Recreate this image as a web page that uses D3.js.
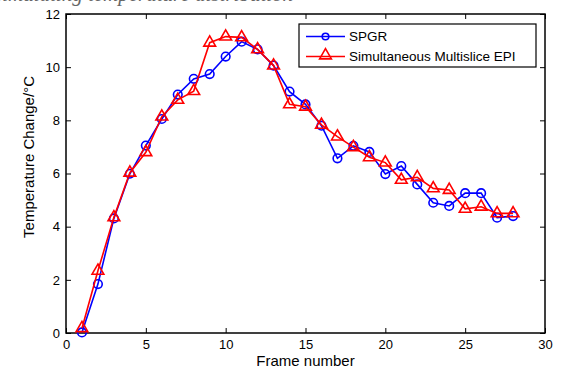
<!DOCTYPE html>
<html>
<head>
<meta charset="utf-8">
<script src="https://cdn.jsdelivr.net/npm/d3@7"></script>
<style>
  body { margin: 0; background: #fff; }
  svg { display: block; }
  text { font-family: "Liberation Sans", Arial, sans-serif; }
  text.caption { font-family: "Liberation Serif", "Times New Roman", serif; font-style: italic; }
</style>
</head>
<body>
<svg id="chart" width="564" height="369"></svg>
<script>
// data
const frames = d3.range(1, 29);
const spgr = [0.02, 1.84, 4.31, 5.99, 7.05, 8.05, 8.97, 9.56, 9.74, 10.4, 10.96, 10.67, 10.06, 9.08,
  8.6, 7.8, 6.57, 7.04, 6.81, 5.98, 6.28, 5.59, 4.9, 4.78, 5.26, 5.26, 4.34, 4.4];
const smsEpi = [0.18, 2.34, 4.35, 6.03, 6.8, 8.14, 8.77, 9.1, 10.92, 11.15, 11.12, 10.67, 10.06, 8.6,
  8.51, 7.83, 7.39, 6.99, 6.61, 6.41, 5.76, 5.86, 5.44, 5.38, 4.67, 4.75, 4.5, 4.5];
const xTicks = [0, 5, 10, 15, 20, 25, 30];
const yTicks = [0, 2, 4, 6, 8, 10, 12];
const seriesNames = ["SPGR", "Simultaneous Multislice EPI"];

var svg = d3.select("#chart");
// plot box in pixels
var mLeft = 66, mRight = 545, mTop = 14, mBottom = 333;

var x = d3.scaleLinear().domain([0, 30]).range([mLeft, mRight]);
var y = d3.scaleLinear().domain([0, 12]).range([mBottom, mTop]);

// cut-off caption line from the page above, only its lower edge shows
svg.append("text")
  .attr("class", "caption")
  .attr("x", -6)
  .attr("y", 0.5)
  .attr("font-size", 21)
  .attr("fill", "#666")
  .text("simulating temperature distribution");

// axes, ticks inward on all four sides
svg.append("g")
  .attr("transform", `translate(0,${mBottom})`)
  .call(d3.axisBottom(x).tickValues(xTicks).tickSize(-5).tickPadding(7))
  .call(g => g.select(".domain").remove());
svg.append("g")
  .attr("transform", `translate(0,${mTop})`)
  .call(d3.axisTop(x).tickValues(xTicks).tickSize(-5).tickFormat(""))
  .call(g => g.select(".domain").remove());
svg.append("g")
  .attr("transform", `translate(${mLeft},0)`)
  .call(d3.axisLeft(y).tickValues(yTicks).tickSize(-5).tickPadding(6))
  .call(g => g.select(".domain").remove());
svg.append("g")
  .attr("transform", `translate(${mRight},0)`)
  .call(d3.axisRight(y).tickValues(yTicks).tickSize(-5).tickFormat(""))
  .call(g => g.select(".domain").remove());

svg.selectAll(".tick text")
  .attr("font-size", 13)
  .attr("font-family", "Liberation Sans, Arial, sans-serif")
  .attr("fill", "#000");
svg.selectAll(".tick line").attr("stroke", "#000");

svg.append("rect")
  .attr("x", mLeft).attr("y", mTop)
  .attr("width", mRight - mLeft).attr("height", mBottom - mTop)
  .attr("fill", "none").attr("stroke", "#000").attr("stroke-width", 1.5);

// axis labels
svg.append("text")
  .attr("x", (mLeft + mRight) / 2)
  .attr("y", 366)
  .attr("text-anchor", "middle")
  .attr("font-size", 15)
  .text("Frame number");
svg.append("text")
  .attr("transform", "translate(34,157) rotate(-90)")
  .attr("text-anchor", "middle")
  .attr("font-size", 15)
  .text("Temperature Change/\u00B0C");

var line = d3.line().x((d, i) => x(frames[i])).y(d => y(d));

function drawTriangle(sel) {
  sel.attr("d", d3.symbol().type(d3.symbolTriangle).size(60))
    .attr("fill", "none").attr("stroke", "red").attr("stroke-width", 1.6);
}

// SPGR
svg.append("path").datum(spgr)
  .attr("d", line).attr("fill", "none").attr("stroke", "#0000ff").attr("stroke-width", 1.6);
svg.append("g").selectAll("circle").data(spgr).enter().append("circle")
  .attr("cx", (d, i) => x(frames[i])).attr("cy", d => y(d)).attr("r", 4.3)
  .attr("fill", "none").attr("stroke", "#0000ff").attr("stroke-width", 1.6);

// SMS EPI
svg.append("path").datum(smsEpi)
  .attr("d", line).attr("fill", "none").attr("stroke", "red").attr("stroke-width", 1.6);
svg.append("g").selectAll("path").data(smsEpi).enter().append("path")
  .attr("transform", (d, i) => `translate(${x(frames[i])},${y(d)})`)
  .call(drawTriangle);

// legend
var legend = svg.append("g");
legend.append("rect")
  .attr("x", 299).attr("y", 24).attr("width", 237).attr("height", 43)
  .attr("fill", "#fff").attr("stroke", "#000").attr("stroke-width", 1.2);
var rows = legend.selectAll("g.row").data(seriesNames).enter().append("g")
  .attr("class", "row")
  .attr("transform", (d, i) => `translate(0,${36.5 + i * 20})`);
rows.append("line")
  .attr("x1", 306).attr("x2", 345)
  .attr("stroke", (d, i) => i ? "red" : "#0000ff").attr("stroke-width", 1.6);
rows.filter((d, i) => i === 0).append("circle")
  .attr("cx", 325.5).attr("cy", 0).attr("r", 3.3)
  .attr("fill", "none").attr("stroke", "#0000ff").attr("stroke-width", 1.6);
rows.filter((d, i) => i === 1).append("path")
  .attr("transform", "translate(325.5,-1)")
  .call(drawTriangle);
rows.append("text")
  .attr("x", 349).attr("dy", "0.35em")
  .attr("font-size", 13.5)
  .text(d => d);
</script>
</body>
</html>
